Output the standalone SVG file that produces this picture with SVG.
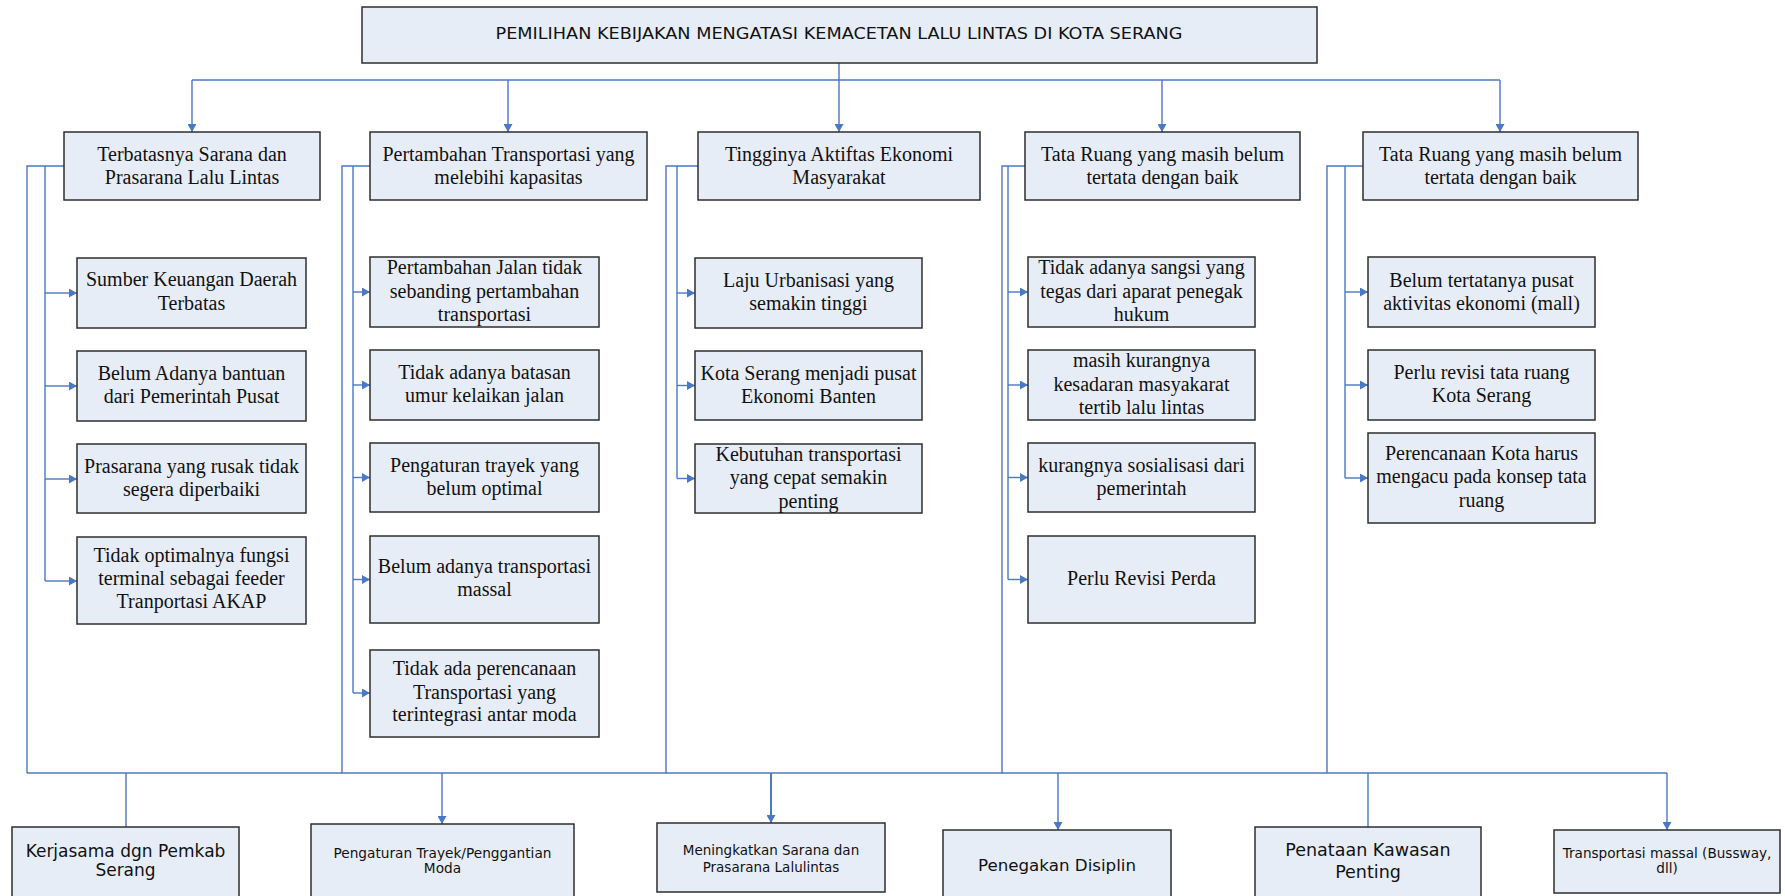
<svg xmlns="http://www.w3.org/2000/svg" width="1785" height="896" viewBox="0 0 1785 896">
<style>
.box{fill:#E7EDF7;stroke:#2E2E2E;stroke-width:1.5}
.t{font-family:"Liberation Serif","Times New Roman",serif;font-size:20px;fill:#111;text-anchor:middle}
.s{font-family:"DejaVu Sans",Verdana,sans-serif;fill:#111;text-anchor:middle}
.ln{fill:none;stroke:#4A78C2;stroke-width:1.4}
.ar{fill:none;stroke:#4A78C2;stroke-width:1.4;marker-end:url(#ah)}
</style>
<defs>
<marker id="ah" viewBox="0 0 8 9" refX="8" refY="4.5" markerWidth="8" markerHeight="9" markerUnits="userSpaceOnUse" orient="auto">
<path d="M0,0 L8,4.5 L0,9 z" fill="#4A78C2"/>
</marker>
</defs>
<rect width="1785" height="896" fill="#fff"/>

<g id="connectors">
<!-- top -->
<line class="ar" x1="839" y1="63" x2="839" y2="132"/>
<line class="ln" x1="192" y1="80" x2="1500" y2="80"/>
<line class="ar" x1="192" y1="80" x2="192" y2="132"/>
<line class="ar" x1="508" y1="80" x2="508" y2="132"/>
<line class="ar" x1="1162" y1="80" x2="1162" y2="132"/>
<line class="ar" x1="1500" y1="80" x2="1500" y2="132"/>
<!-- col1 -->
<path class="ln" d="M64,166 H27 V773"/>
<line class="ln" x1="45" y1="166" x2="45" y2="581"/>
<line class="ar" x1="45" y1="293" x2="77" y2="293"/>
<line class="ar" x1="45" y1="386" x2="77" y2="386"/>
<line class="ar" x1="45" y1="479" x2="77" y2="479"/>
<line class="ar" x1="45" y1="581" x2="77" y2="581"/>
<!-- col2 -->
<path class="ln" d="M370,166 H342 V773"/>
<line class="ln" x1="353" y1="166" x2="353" y2="693"/>
<line class="ar" x1="353" y1="292" x2="370" y2="292"/>
<line class="ar" x1="353" y1="385" x2="370" y2="385"/>
<line class="ar" x1="353" y1="477.5" x2="370" y2="477.5"/>
<line class="ar" x1="353" y1="579.5" x2="370" y2="579.5"/>
<line class="ar" x1="353" y1="693" x2="370" y2="693"/>
<!-- col3 -->
<path class="ln" d="M698,166 H666 V773"/>
<line class="ln" x1="677" y1="166" x2="677" y2="478.5"/>
<line class="ar" x1="677" y1="293" x2="695" y2="293"/>
<line class="ar" x1="677" y1="385.5" x2="695" y2="385.5"/>
<line class="ar" x1="677" y1="478.5" x2="695" y2="478.5"/>
<!-- col4 -->
<path class="ln" d="M1025,166 H1002 V773"/>
<line class="ln" x1="1008" y1="166" x2="1008" y2="579.5"/>
<line class="ar" x1="1008" y1="292" x2="1028" y2="292"/>
<line class="ar" x1="1008" y1="385" x2="1028" y2="385"/>
<line class="ar" x1="1008" y1="477.5" x2="1028" y2="477.5"/>
<line class="ar" x1="1008" y1="579.5" x2="1028" y2="579.5"/>
<!-- col5 -->
<path class="ln" d="M1363,166 H1327 V773"/>
<line class="ln" x1="1345" y1="166" x2="1345" y2="478"/>
<line class="ar" x1="1345" y1="292" x2="1368" y2="292"/>
<line class="ar" x1="1345" y1="385" x2="1368" y2="385"/>
<line class="ar" x1="1345" y1="478" x2="1368" y2="478"/>
<!-- bottom bus -->
<line class="ln" x1="27" y1="773" x2="1667" y2="773"/>
<line class="ln" x1="126" y1="773" x2="126" y2="827"/>
<line class="ar" x1="442" y1="773" x2="442" y2="824"/>
<line class="ar" x1="771" y1="773" x2="771" y2="823" style="stroke-width:2"/>
<line class="ar" x1="1058" y1="773" x2="1058" y2="830"/>
<line class="ln" x1="1368" y1="773" x2="1368" y2="827"/>
<line class="ar" x1="1667" y1="773" x2="1667" y2="830"/>
</g>

<g id="title">
<rect class="box" x="362" y="7" width="955" height="56"/>
<text class="s" x="839" y="39" font-size="16" textLength="687" lengthAdjust="spacingAndGlyphs">PEMILIHAN KEBIJAKAN MENGATASI KEMACETAN LALU LINTAS DI KOTA SERANG</text>
</g>

<g id="l2-1">
<rect class="box" x="64" y="132" width="256" height="68"/>
<text class="t" x="192" y="161">Terbatasnya Sarana dan</text>
<text class="t" x="192" y="184">Prasarana Lalu Lintas</text>
</g>
<g id="l2-2">
<rect class="box" x="370" y="132" width="277" height="68"/>
<text class="t" x="508.5" y="161">Pertambahan Transportasi yang</text>
<text class="t" x="508.5" y="184">melebihi kapasitas</text>
</g>
<g id="l2-3">
<rect class="box" x="698" y="132" width="282" height="68"/>
<text class="t" x="839" y="161">Tingginya Aktiftas Ekonomi</text>
<text class="t" x="839" y="184">Masyarakat</text>
</g>
<g id="l2-4">
<rect class="box" x="1025" y="132" width="275" height="68"/>
<text class="t" x="1162.5" y="161">Tata Ruang yang masih belum</text>
<text class="t" x="1162.5" y="184">tertata dengan baik</text>
</g>
<g id="l2-5">
<rect class="box" x="1363" y="132" width="275" height="68"/>
<text class="t" x="1500.5" y="161">Tata Ruang yang masih belum</text>
<text class="t" x="1500.5" y="184">tertata dengan baik</text>
</g>

<!-- column 1 children -->
<g id="c1-1">
<rect class="box" x="77" y="258" width="229" height="70"/>
<text class="t" x="191.5" y="286">Sumber Keuangan Daerah</text>
<text class="t" x="191.5" y="310">Terbatas</text>
</g>
<g id="c1-2">
<rect class="box" x="77" y="351" width="229" height="70"/>
<text class="t" x="191.5" y="380">Belum Adanya bantuan</text>
<text class="t" x="191.5" y="403">dari Pemerintah Pusat</text>
</g>
<g id="c1-3">
<rect class="box" x="77" y="444" width="229" height="69"/>
<text class="t" x="191.5" y="473">Prasarana yang rusak tidak</text>
<text class="t" x="191.5" y="496">segera diperbaiki</text>
</g>
<g id="c1-4">
<rect class="box" x="77" y="537" width="229" height="87"/>
<text class="t" x="191.5" y="562">Tidak optimalnya fungsi</text>
<text class="t" x="191.5" y="585">terminal sebagai feeder</text>
<text class="t" x="191.5" y="608">Tranportasi AKAP</text>
</g>

<!-- column 2 children -->
<g id="c2-1">
<rect class="box" x="370" y="257" width="229" height="70"/>
<text class="t" x="484.5" y="274">Pertambahan Jalan tidak</text>
<text class="t" x="484.5" y="297.5">sebanding pertambahan</text>
<text class="t" x="484.5" y="321">transportasi</text>
</g>
<g id="c2-2">
<rect class="box" x="370" y="350" width="229" height="70"/>
<text class="t" x="484.5" y="379">Tidak adanya batasan</text>
<text class="t" x="484.5" y="402">umur kelaikan jalan</text>
</g>
<g id="c2-3">
<rect class="box" x="370" y="443" width="229" height="69"/>
<text class="t" x="484.5" y="472">Pengaturan trayek yang</text>
<text class="t" x="484.5" y="495">belum optimal</text>
</g>
<g id="c2-4">
<rect class="box" x="370" y="536" width="229" height="87"/>
<text class="t" x="484.5" y="573">Belum adanya transportasi</text>
<text class="t" x="484.5" y="596">massal</text>
</g>
<g id="c2-5">
<rect class="box" x="370" y="650" width="229" height="87"/>
<text class="t" x="484.5" y="675">Tidak ada perencanaan</text>
<text class="t" x="484.5" y="699">Transportasi yang</text>
<text class="t" x="484.5" y="721">terintegrasi antar moda</text>
</g>

<!-- column 3 children -->
<g id="c3-1">
<rect class="box" x="695" y="258" width="227" height="70"/>
<text class="t" x="808.5" y="287">Laju Urbanisasi yang</text>
<text class="t" x="808.5" y="310">semakin tinggi</text>
</g>
<g id="c3-2">
<rect class="box" x="695" y="351" width="227" height="69"/>
<text class="t" x="808.5" y="380">Kota Serang menjadi pusat</text>
<text class="t" x="808.5" y="403">Ekonomi Banten</text>
</g>
<g id="c3-3">
<rect class="box" x="695" y="444" width="227" height="69"/>
<text class="t" x="808.5" y="461">Kebutuhan transportasi</text>
<text class="t" x="808.5" y="484">yang cepat semakin</text>
<text class="t" x="808.5" y="508">penting</text>
</g>

<!-- column 4 children -->
<g id="c4-1">
<rect class="box" x="1028" y="257" width="227" height="70"/>
<text class="t" x="1141.5" y="274">Tidak adanya sangsi yang</text>
<text class="t" x="1141.5" y="297.5">tegas dari aparat penegak</text>
<text class="t" x="1141.5" y="321">hukum</text>
</g>
<g id="c4-2">
<rect class="box" x="1028" y="350" width="227" height="70"/>
<text class="t" x="1141.5" y="367">masih kurangnya</text>
<text class="t" x="1141.5" y="390.5">kesadaran masyakarat</text>
<text class="t" x="1141.5" y="414">tertib lalu lintas</text>
</g>
<g id="c4-3">
<rect class="box" x="1028" y="443" width="227" height="69"/>
<text class="t" x="1141.5" y="471.5">kurangnya sosialisasi dari</text>
<text class="t" x="1141.5" y="495">pemerintah</text>
</g>
<g id="c4-4">
<rect class="box" x="1028" y="536" width="227" height="87"/>
<text class="t" x="1141.5" y="585">Perlu Revisi Perda</text>
</g>

<!-- column 5 children -->
<g id="c5-1">
<rect class="box" x="1368" y="257" width="227" height="70"/>
<text class="t" x="1481.5" y="287">Belum tertatanya pusat</text>
<text class="t" x="1481.5" y="310">aktivitas ekonomi (mall)</text>
</g>
<g id="c5-2">
<rect class="box" x="1368" y="350" width="227" height="70"/>
<text class="t" x="1481.5" y="379">Perlu revisi tata ruang</text>
<text class="t" x="1481.5" y="402">Kota Serang</text>
</g>
<g id="c5-3">
<rect class="box" x="1368" y="433" width="227" height="90"/>
<text class="t" x="1481.5" y="460">Perencanaan Kota harus</text>
<text class="t" x="1481.5" y="483">mengacu pada konsep tata</text>
<text class="t" x="1481.5" y="507">ruang</text>
</g>

<!-- bottom policies -->
<g id="p1">
<rect class="box" x="12" y="827" width="227" height="80"/>
<text class="s" x="125.5" y="857" font-size="17">Kerjasama dgn Pemkab</text>
<text class="s" x="125.5" y="876" font-size="17">Serang</text>
</g>
<g id="p2">
<rect class="box" x="311" y="824" width="263" height="80"/>
<text class="s" x="442.5" y="858" font-size="13.7">Pengaturan Trayek/Penggantian</text>
<text class="s" x="442.5" y="873" font-size="13.7">Moda</text>
</g>
<g id="p3">
<rect class="box" x="657" y="823" width="228" height="69"/>
<text class="s" x="771" y="855" font-size="13.5">Meningkatkan Sarana dan</text>
<text class="s" x="771" y="872" font-size="13.5">Prasarana Lalulintas</text>
</g>
<g id="p4">
<rect class="box" x="943" y="830" width="228" height="80"/>
<text class="s" x="1057" y="871" font-size="16.7">Penegakan Disiplin</text>
</g>
<g id="p5">
<rect class="box" x="1255" y="827" width="226" height="80"/>
<text class="s" x="1368" y="856" font-size="17.5">Penataan Kawasan</text>
<text class="s" x="1368" y="878" font-size="17.5">Penting</text>
</g>
<g id="p6">
<rect class="box" x="1554" y="830" width="226" height="63"/>
<text class="s" x="1667" y="858" font-size="13.6">Transportasi massal (Bussway,</text>
<text class="s" x="1667" y="873" font-size="13.6">dll)</text>
</g>
</svg>
